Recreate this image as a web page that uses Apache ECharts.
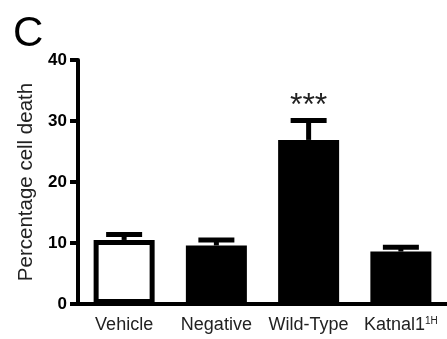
<!DOCTYPE html>
<html>
<head>
<meta charset="utf-8">
<script src="https://cdn.jsdelivr.net/npm/echarts@6/dist/echarts.min.js"></script>
<style>html,body{margin:0;padding:0;background:#fff}#c{width:447px;height:339px}</style>
</head>
<body>
<div id="c"></div>
<script>
const categories = ['Vehicle', 'Negative', 'Wild-Type', 'Katnal1'];
const means = [10.5, 9.6, 26.9, 8.6];
const sem = [0.9, 0.9, 3.2, 0.7];
const significance = ['', '', '***', ''];
const barFills = ['#ffffff', '#000000', '#000000', '#000000'];
const yTicks = [0, 10, 20, 30, 40];

const FONT = "'Liberation Sans', Arial, sans-serif";
const chart = echarts.init(document.getElementById('c'));

const errData = categories.map((c, i) => [i, means[i], sem[i], significance[i]]);

chart.setOption({
  animation: false,
  title: {
    text: 'C', left: 13, top: 13, padding: 0,
    textStyle: { fontFamily: FONT, fontSize: 42, fontWeight: 'normal', color: '#000' }
  },
  grid: { left: 78, right: 0, top: 60, bottom: 35 },
  xAxis: {
    type: 'category',
    data: categories,
    axisLine: { lineStyle: { color: '#000', width: 4 } },
    axisTick: { alignWithLabel: true, length: 7, lineStyle: { color: '#000', width: 4 } },
    axisLabel: {
      interval: 0, margin: 12, color: '#222', fontFamily: FONT, fontSize: 18,
      formatter: v => v === 'Katnal1' ? 'Katnal1{sup|1H}' : v,
      rich: { sup: { fontSize: 10, fontFamily: FONT, color: '#222', verticalAlign: 'top', padding: [0, 0, 8, 0] } }
    }
  },
  yAxis: {
    type: 'value', min: yTicks[0], max: yTicks[yTicks.length - 1], interval: 10,
    name: 'Percentage cell death', nameLocation: 'middle', nameGap: 39,
    nameTextStyle: { fontFamily: FONT, fontSize: 20.5, color: '#222' },
    axisLine: { show: true, lineStyle: { color: '#000', width: 4 } },
    axisTick: { show: true, length: 8, lineStyle: { color: '#000', width: 4 } },
    axisLabel: { margin: 11, color: '#000', fontFamily: FONT, fontSize: 17, fontWeight: 'bold' },
    splitLine: { show: false }
  },
  series: [
    {
      type: 'bar',
      barWidth: 61,
      data: means.map((v, i) => ({ value: v, itemStyle: { color: barFills[i], borderColor: '#000', borderWidth: 5 } })),
      z: 2
    },
    {
      type: 'custom',
      data: errData,
      encode: { x: 0, y: 1 },
      z: 3,
      renderItem: function (params, api) {
        const x = api.value(0), m = api.value(1), e = api.value(2);
        const lbl = significance[params.dataIndex];
        const base = api.coord([x, m]);
        const top = api.coord([x, m + e]);
        const half = 18;
        const children = [
          { type: 'line', shape: { x1: base[0], y1: base[1], x2: top[0], y2: top[1] }, style: { stroke: '#000', lineWidth: 5 } },
          { type: 'line', shape: { x1: top[0] - half, y1: top[1], x2: top[0] + half, y2: top[1] }, style: { stroke: '#000', lineWidth: 5 } }
        ];
        if (lbl) {
          children.push({ type: 'text', x: top[0], y: top[1] + 2, style: { text: lbl, fill: '#222', font: '32px ' + FONT, align: 'center', verticalAlign: 'bottom' } });
        }
        return { type: 'group', children: children };
      }
    }
  ]
});
</script>
</body>
</html>
